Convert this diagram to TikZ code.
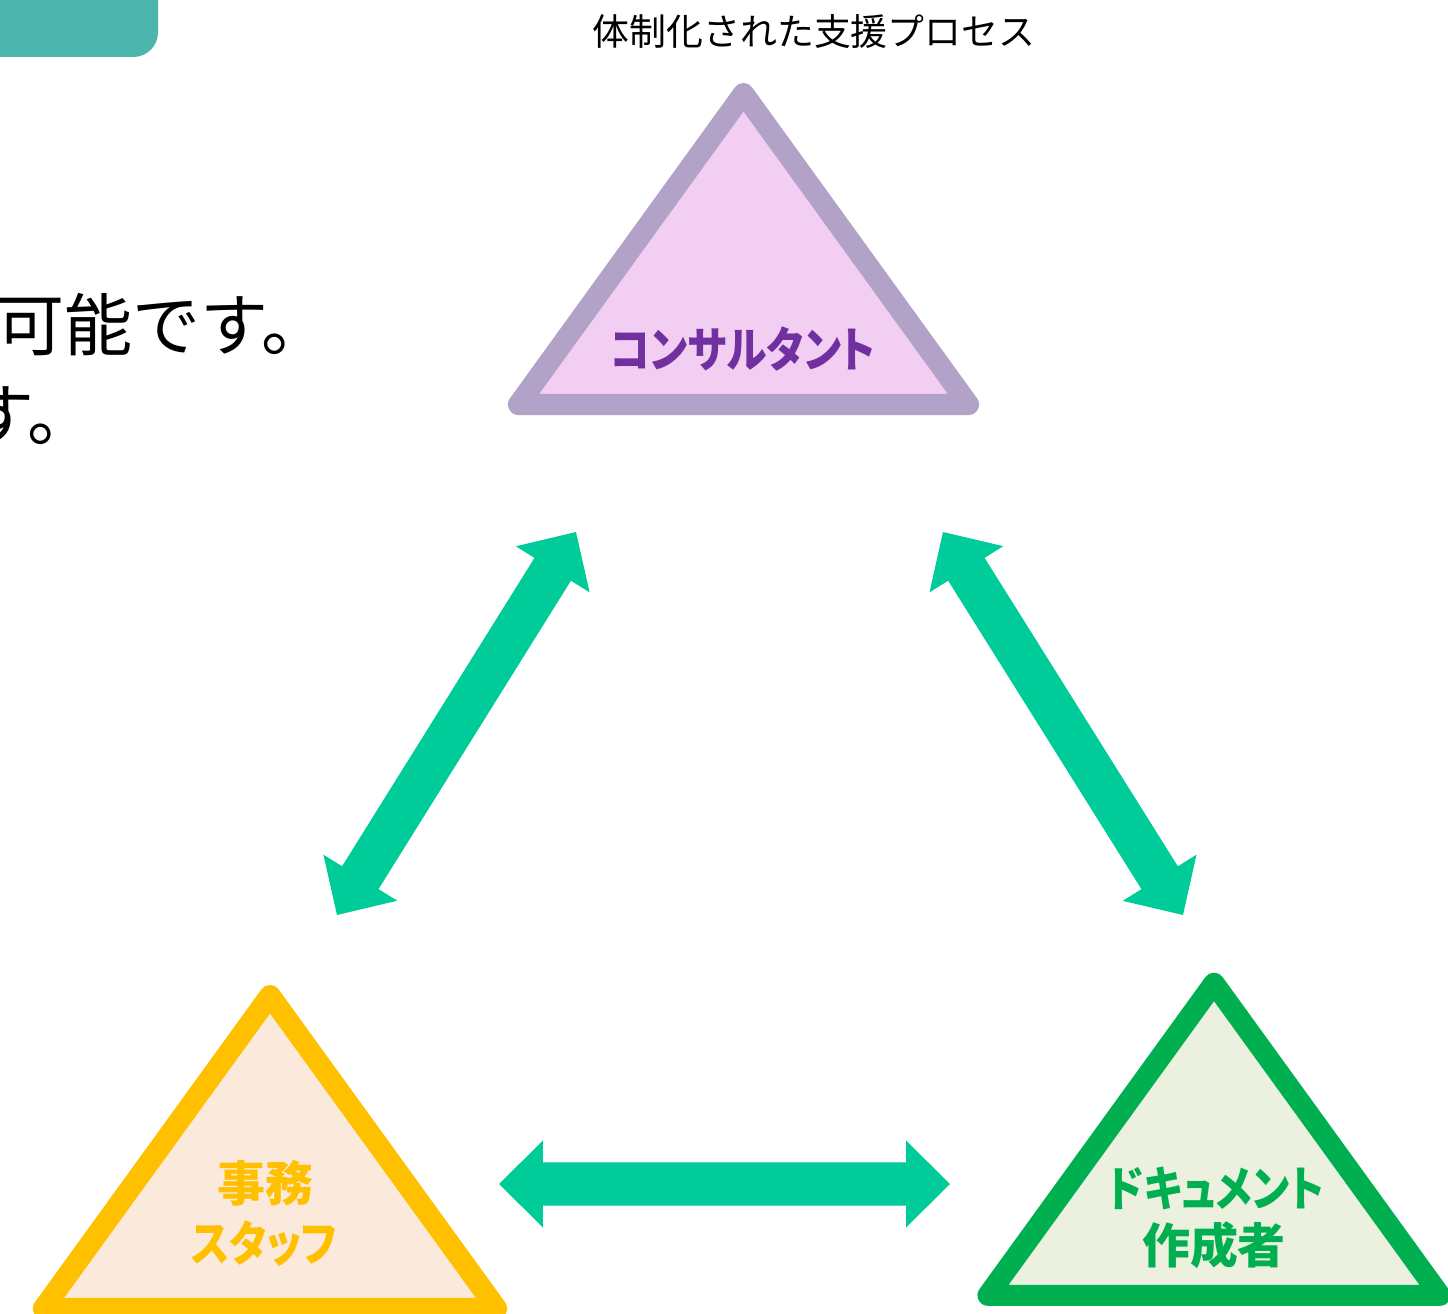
\documentclass[tikz,border=0pt]{standalone}
\usepackage{fontspec}
\setmainfont{Noto Sans CJK JP}
\newfontfamily\jpprop[RawFeature=+palt]{Noto Sans CJK JP}
\usetikzlibrary{calc}
\definecolor{tabteal}{HTML}{4DB6AC}
\definecolor{arrgreen}{HTML}{00CC99}
\definecolor{conStroke}{HTML}{B3A2C7}
\definecolor{conFill}{HTML}{F2CEF2}
\definecolor{conText}{HTML}{7030A0}
\definecolor{staStroke}{HTML}{FFC000}
\definecolor{staFill}{HTML}{FBE9DB}
\definecolor{docStroke}{HTML}{00B050}
\definecolor{docFill}{HTML}{EBF1DE}
\newcommand\arrhl{25.04pt}
\newcommand\arrhw{24.76pt}
\newcommand\arrsw{12.24pt}
\newcommand\kana[1]{\scalebox{0.85}[1]{#1}}
\newcommand\dblarr[2]{%
 \fill[arrowfill] (#1)
  -- ($(#1)!\arrhl!(#2)!\arrhw!90:(#2)$)
  -- ($(#1)!\arrhl!(#2)!\arrsw!90:(#2)$)
  -- ($(#2)!\arrhl!(#1)!\arrsw!-90:(#1)$)
  -- ($(#2)!\arrhl!(#1)!\arrhw!-90:(#1)$)
  -- (#2)
  -- ($(#2)!\arrhl!(#1)!\arrhw!90:(#1)$)
  -- ($(#2)!\arrhl!(#1)!\arrsw!90:(#1)$)
  -- ($(#1)!\arrhl!(#2)!\arrsw!-90:(#2)$)
  -- ($(#1)!\arrhl!(#2)!\arrhw!-90:(#2)$)
  -- cycle;}
\tikzset{
  arrowfill/.style={fill=arrgreen},
  tri/.style={line width=12pt, line join=round},
  rolelabel/.style={inner sep=0pt, anchor=base, font=\jpprop\bfseries\fontsize{27.3pt}{34pt}\selectfont},
  bigtext/.style={inner sep=0pt, anchor=base west, font=\fontsize{38.7pt}{46pt}\selectfont},
}
\begin{document}
\begin{tikzpicture}[x={(0.02cm,0)}, y={(0,-0.02cm)}]
\useasboundingbox (0,0) rectangle (1448,1314);
\clip (0,0) rectangle (1448,1314);
\fill[white] (0,0) rectangle (1448,1314);
% tab
\fill[tabteal, rounded corners=14pt] (-40,-40) rectangle (158,57);
% title
\node[inner sep=0pt, anchor=base, font=\fontsize{21pt}{25pt}\selectfont] (title) at (814,46) {体制化された支援プロセス};
% left cut text
\node[bigtext] (line1) at (-4,351) {可能です。};
\node[bigtext] (line2) at (-34,441) {す。};
% triangles
\draw[tri, draw=conStroke, fill=conFill] (743.5,93.5) -- (968.5,404.5) -- (518.5,404.5) -- cycle;
\draw[tri, draw=staStroke, fill=staFill] (270,995.5) -- (496.6,1308.5) -- (43.4,1308.5) -- cycle;
\draw[tri, draw=docStroke, fill=docFill] (1214,983.2) -- (1440,1295.3) -- (988,1295.3) -- cycle;
% labels
\node[rolelabel, text=conText] (con) at (743,368) {\kana{コンサルタント}};
\node[rolelabel, text=staStroke] (sta1) at (265,1201) {事務};
\node[rolelabel, text=staStroke] (sta2) at (264,1261) {\kana{スタッフ}};
\node[rolelabel, text=docStroke] (doc1) at (1216,1206) {\kana{ドキュメント}};
\node[rolelabel, text=docStroke] (doc2) at (1214,1263) {作成者};
% arrow end coordinates
\coordinate (aLt) at (576,532);
\coordinate (aLb) at (337,915);
\coordinate (aRt) at (943,532);
\coordinate (aRb) at (1183,915);
\coordinate (aHl) at (499,1184);
\coordinate (aHr) at (950,1184);
\dblarr{aLb}{aLt}
\dblarr{aRb}{aRt}
\dblarr{aHl}{aHr}
\end{tikzpicture}
\end{document}
